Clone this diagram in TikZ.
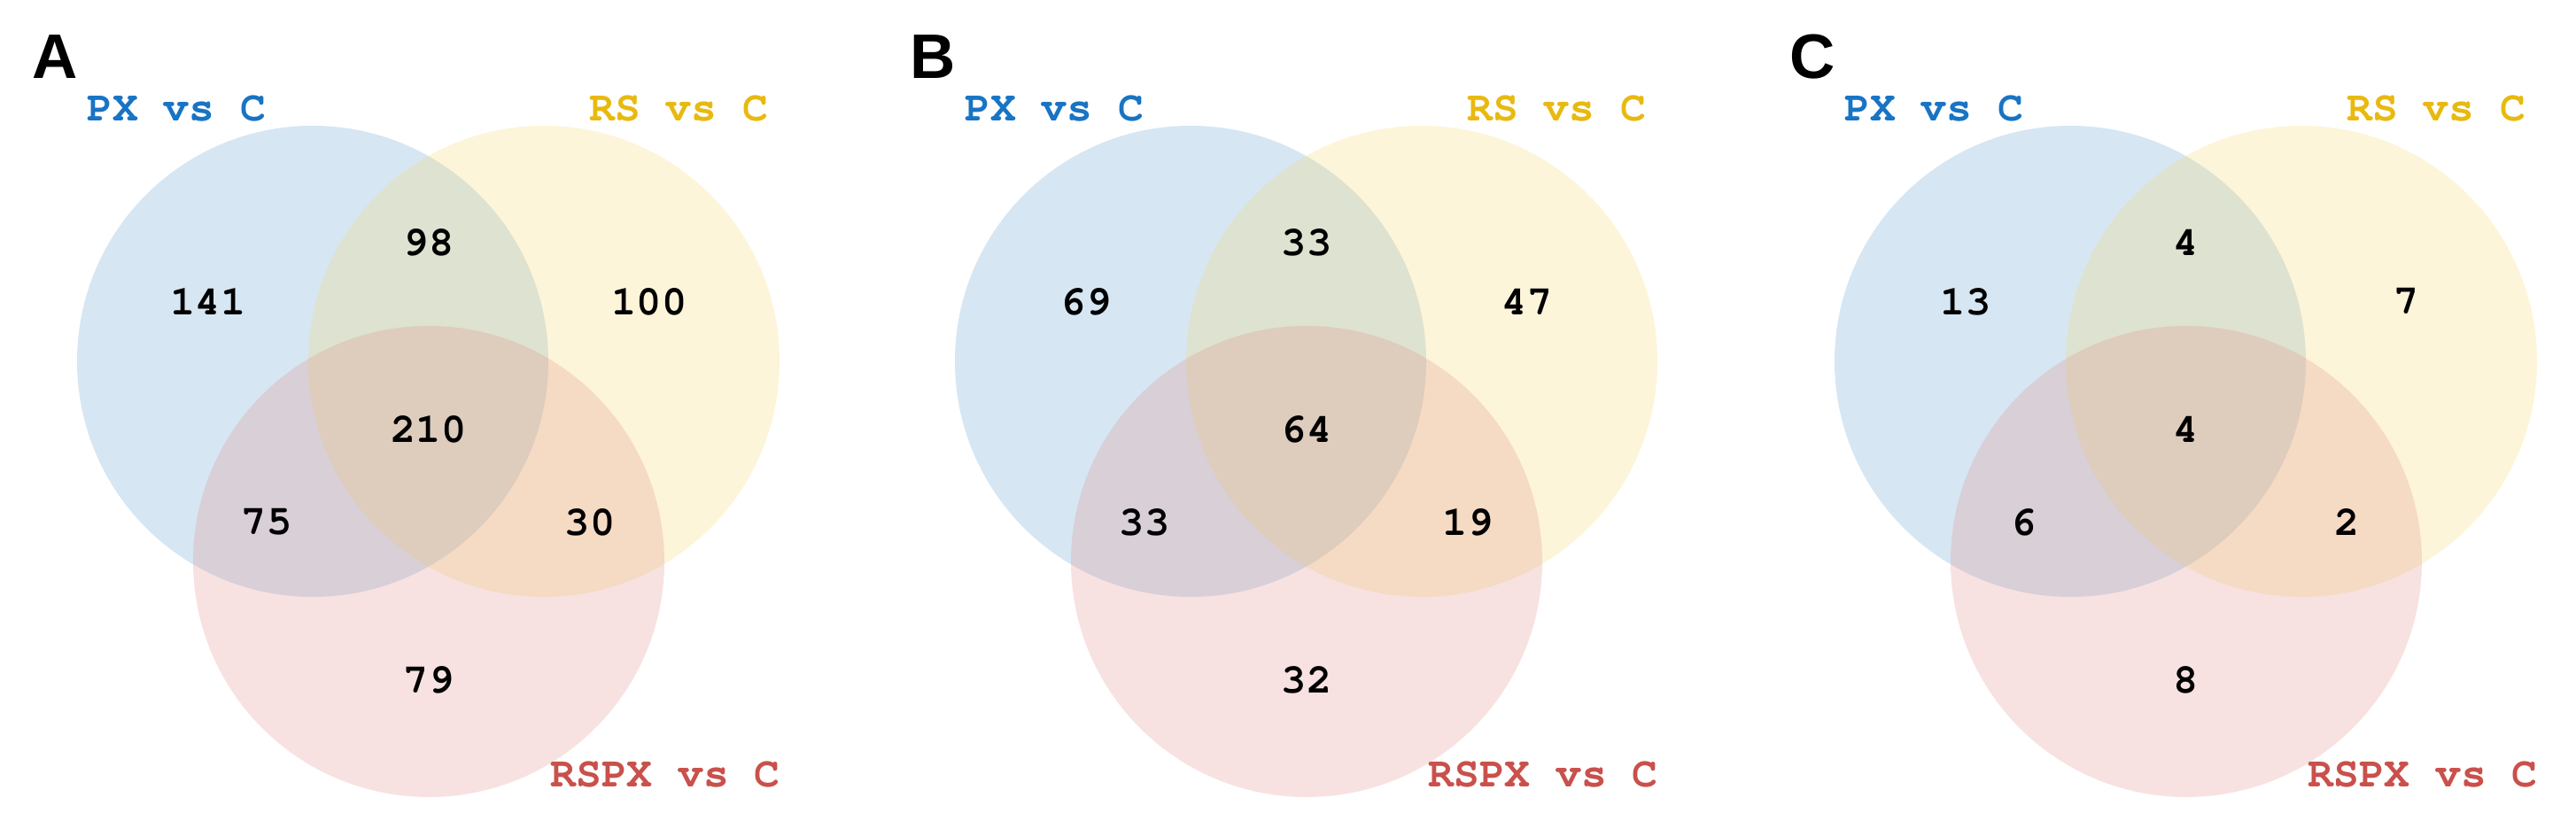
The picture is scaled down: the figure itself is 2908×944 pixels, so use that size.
\documentclass[tikz,border=0pt]{standalone}
\usepackage[T1]{fontenc}
\usepackage{fontspec}
\setsansfont{Liberation Sans}

\definecolor{pxfill}{RGB}{91,155,207}
\definecolor{rsfill}{RGB}{247,215,103}
\definecolor{rspxfill}{RGB}{223,139,135}
\definecolor{pxtext}{RGB}{24,116,196}
\definecolor{rstext}{RGB}{232,185,15}
\definecolor{rspxtext}{RGB}{201,80,75}

\newcommand{\courb}{\fontencoding{T1}\fontfamily{pcr}\fontseries{b}\selectfont}

\begin{document}
\begin{tikzpicture}[x=1pt, y=-1pt,
  set/.style = {circle, minimum size=532pt, inner sep=0pt, fill opacity=0.25},
  pxset/.style = {set, fill=pxfill},
  rsset/.style = {set, fill=rsfill},
  rspxset/.style = {set, fill=rspxfill},
  num/.style = {inner sep=0pt, font=\courb\fontsize{47}{47}\selectfont},
  lab/.style = {inner sep=0pt, font=\courb\fontsize{48}{48}\selectfont},
  tag/.style = {inner sep=0pt, font=\fontsize{71}{71}\selectfont\sffamily\bfseries}]
\useasboundingbox (0,0) rectangle (2908,944);

% panel A
\node[pxset] (pxA) at (353,408) {};
\node[rsset] (rsA) at (614,408) {};
\node[rspxset] (rspxA) at (484,634) {};
\node[tag] (tA) at (62,64) {A};
\node[lab, text=pxtext] (lpxA) at (199,123) {PX vs C};
\node[lab, text=rstext] (lrsA) at (766,123) {RS vs C};
\node[lab, text=rspxtext] (lrspxA) at (751,875) {RSPX vs C};
\node[num] (a1) at (235,341) {141};
\node[num] (a2) at (484,274) {98};
\node[num] (a3) at (733,341) {100};
\node[num] (a4) at (484,485) {210};
\node[num] (a5) at (301,590) {75};
\node[num] (a6) at (666,590) {30};
\node[num] (a7) at (484,768) {79};

% panel B
\begin{scope}[xshift=991pt]
\node[pxset] (pxB) at (353,408) {};
\node[rsset] (rsB) at (614,408) {};
\node[rspxset] (rspxB) at (484,634) {};
\node[tag] (tB) at (62,64) {B};
\node[lab, text=pxtext] (lpxB) at (199,123) {PX vs C};
\node[lab, text=rstext] (lrsB) at (766,123) {RS vs C};
\node[lab, text=rspxtext] (lrspxB) at (751,875) {RSPX vs C};
\node[num] (b1) at (235,341) {69};
\node[num] (b2) at (484,274) {33};
\node[num] (b3) at (733,341) {47};
\node[num] (b4) at (484,485) {64};
\node[num] (b5) at (301,590) {33};
\node[num] (b6) at (666,590) {19};
\node[num] (b7) at (484,768) {32};
\end{scope}

% panel C
\begin{scope}[xshift=1984pt]
\node[pxset] (pxC) at (353,408) {};
\node[rsset] (rsC) at (614,408) {};
\node[rspxset] (rspxC) at (484,634) {};
\node[tag] (tC) at (62,64) {C};
\node[lab, text=pxtext] (lpxC) at (199,123) {PX vs C};
\node[lab, text=rstext] (lrsC) at (766,123) {RS vs C};
\node[lab, text=rspxtext] (lrspxC) at (751,875) {RSPX vs C};
\node[num] (c1) at (235,341) {13};
\node[num] (c2) at (484,274) {4};
\node[num] (c3) at (733,341) {7};
\node[num] (c4) at (484,485) {4};
\node[num] (c5) at (301,590) {6};
\node[num] (c6) at (666,590) {2};
\node[num] (c7) at (484,768) {8};
\end{scope}
\end{tikzpicture}
\end{document}
